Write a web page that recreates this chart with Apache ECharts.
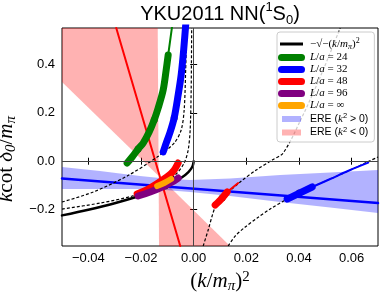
<!DOCTYPE html>
<html><head><meta charset="utf-8">
<script src="https://cdn.jsdelivr.net/npm/echarts@6/dist/echarts.min.js"></script>
<style>html,body{margin:0;padding:0;background:#fff;}#c{width:382px;height:295px;}</style>
</head><body><div id="c"></div>
<script>
// ---- axis ticks ----
const xTicks = [-0.04, -0.02, 0.00, 0.02, 0.04, 0.06];
const yTicks = [-0.2, 0.0, 0.2, 0.4];

// ---- ERE bands ----
const pinkUpper = [[-0.05,0.55],[-0.01365,0.55],[-0.0133,-0.061],[-0.05,0.327]];
const pinkLower = [[-0.0133,-0.061],[-0.01316,-0.35],[0.0138,-0.35]];
const blueBandX = [-0.05,-0.0356,-0.0204,-0.0109,-0.0014,0.0138,0.0328,0.0518,0.07];
const blueBandTop = [-0.024,-0.040,-0.061,-0.071,-0.078,-0.071,-0.057,-0.047,-0.036];
const blueBandBottom = [-0.115,-0.115,-0.115,-0.119,-0.127,-0.144,-0.168,-0.191,-0.214];
const ereNegLine = [[-0.0294,0.55],[-0.0051,-0.35]];
const erePosLine = [[-0.05,-0.071],[0.07,-0.1726]];

// ---- -sqrt(-(k/m)^2) ----
const sqrtCurve = [[-0.05,-0.2236],[-0.04,-0.2],[-0.03,-0.1732],[-0.02,-0.1414],[-0.015,-0.1225],[-0.01,-0.1],[-0.007,-0.0837],[-0.004,-0.0632],[-0.002,-0.0447],[-0.001,-0.0316],[-0.0003,-0.0173],[0,0]];

// ---- Luescher curves (dashed) ----
const dashA = [[-0.05,-0.1685],[-0.03817,-0.1272],[-0.02526,-0.0611],[-0.01386,0.0173],[-0.00741,0.0751],[-0.00475,0.1288],[-0.00361,0.2114],[-0.00304,0.3765],[-0.00266,0.55]];
const dashB = [[-0.05,-0.1974],[-0.03551,-0.1726],[-0.02336,-0.1437],[-0.01272,-0.0983],[-0.00665,-0.0528],[-0.00361,-0.0074],[-0.00209,0.0462],[-0.00133,0.1288],[-0.00095,0.294],[-0.00076,0.55]];
const dashC = [[0.00361,-0.35],[0.00551,-0.2841],[0.00817,-0.1891],[0.01082,-0.1519],[0.01766,-0.0859],[0.02374,-0.0364],[0.02981,0.0049],[0.03399,0.0338],[0.04045,0.166],[0.04805,0.3476],[0.05564,0.55]];
const dashD = [[0.0131,-0.35],[0.01576,-0.3089],[0.01956,-0.2717],[0.02412,-0.2345],[0.02905,-0.1974],[0.03551,-0.1561],[0.04045,-0.1313],[0.045,-0.1065],[0.05184,-0.0735],[0.05944,-0.0364],[0.0659,-0.0033],[0.07,0.0173]];

// ---- lattice data ----
const green24Thin = [[-0.0079,0.58],[-0.00968,0.4385]];
const green24 = [[-0.00968,0.4385],[-0.01044,0.3765],[-0.01158,0.2939],[-0.01348,0.2196],[-0.015,0.1701],[-0.0169,0.1206],[-0.01918,0.0751],[-0.02108,0.0504],[-0.02336,0.0173],[-0.02526,-0.0074]];
const blue32 = [[-0.0029,0.58],[-0.0038,0.4591],[-0.00475,0.3559],[-0.00589,0.2733],[-0.00741,0.1784],[-0.00893,0.1206],[-0.01044,0.0751],[-0.01158,0.038]];
const blue32Exc = [[0.03551,-0.1561],[0.045,-0.1065]];
const blue32ExcThin = [[0.045,-0.1065],[0.05184,-0.0735],[0.05944,-0.0364],[0.0663,-0.006]];
const red48 = [[-0.02146,-0.1354],[-0.01728,-0.1148],[-0.01348,-0.09],[-0.00968,-0.0611],[-0.00741,-0.0363],[-0.00589,-0.0074]];
const red48Exc = [[0.00817,-0.1808],[0.01082,-0.1519],[0.01272,-0.1272]];
const red48ExcThin = [[0.01272,-0.1272],[0.0169,-0.09]];
const purple96 = [[-0.02108,-0.1437],[-0.01652,-0.1272],[-0.01196,-0.1065],[-0.00817,-0.0859],[-0.00589,-0.0694]];
const orangeInf = [[-0.01386,-0.1024],[-0.0112,-0.09],[-0.00855,-0.0735]];
const dots24 = [[-0.015,0.170],[-0.0211,0.050]];
const dots32 = [[-0.0074,0.178],[0.0401,-0.1313]];
const dots48 = [[0.0108,-0.1519]];
const dotsCenter = [[-0.01588,-0.1078],[-0.01299,-0.0888],[-0.01109,-0.0747],[-0.0109,-0.1024]];

const SERIF = 'Liberation Serif', SANS = 'Liberation Sans';
const chart = echarts.init(document.getElementById('c'), null, {renderer:'canvas'});

function polySeries(name, polys, color) {
  return {
    type:'custom', name, coordinateSystem:'cartesian2d', clip:true, silent:true,
    itemStyle:{color}, data:[[0,0]],
    renderItem:(params, api) => ({
      type:'group',
      children: polys.map(pts => ({type:'polygon', shape:{points: pts.map(p => api.coord(p))}, style:{fill:color}}))
    })
  };
}
function lineS(name, data, color, width, extra) {
  return Object.assign({
    type:'line', name, data, symbol:'none', showSymbol:false, clip:true, silent:true,
    itemStyle:{color}, lineStyle:{color, width, cap:'round', join:'round'}
  }, extra || {});
}
function dashS(data) {
  return {type:'line', name:'dash', data, symbol:'none', clip:true, silent:true, smooth:0.3,
    itemStyle:{color:'#000'}, lineStyle:{color:'#000', width:1.2, type:[3,2]}};
}
function dotS(data) {
  return {type:'scatter', name:'dots', data, symbol:'circle', symbolSize:7, silent:true,
    itemStyle:{color:'#000'}};
}

const blueBandPoly = blueBandX.map((x,i) => [x, blueBandTop[i]])
  .concat(blueBandX.map((x,i) => [x, blueBandBottom[i]]).reverse());

const mathRich = {
  i:{fontFamily:SERIF, fontStyle:'italic', fontSize:11, lineHeight:14, color:'#000'},
  r:{fontFamily:SERIF, fontSize:11, lineHeight:14, color:'#000'},
  s:{fontFamily:SERIF, fontStyle:'italic', fontSize:8, lineHeight:8, verticalAlign:'bottom', color:'#000'},
  p:{fontFamily:SERIF, fontSize:8, lineHeight:8, verticalAlign:'top', color:'#000'},
  a:{fontFamily:SANS, fontSize:10.5, lineHeight:14, color:'#000'},
  ai:{fontFamily:SERIF, fontStyle:'italic', fontSize:11, lineHeight:14, color:'#000'},
  ap:{fontFamily:SANS, fontSize:7.5, lineHeight:8, verticalAlign:'top', color:'#000'}
};
const legendLabels = {
  'sqrt':'{r|−√−(}{i|k}{r|/}{i|m}{s|π}{r|)}{p|2}',
  'L/a=24':'{i|L}{r|/}{i|a}{r| = 24}',
  'L/a=32':'{i|L}{r|/}{i|a}{r| = 32}',
  'L/a=48':'{i|L}{r|/}{i|a}{r| = 48}',
  'L/a=96':'{i|L}{r|/}{i|a}{r| = 96}',
  'L/a=inf':'{i|L}{r|/}{i|a}{r| = ∞}',
  'EREpos':'{a|ERE (}{ai|k}{ap|2}{a| > 0)}',
  'EREneg':'{a|ERE (}{ai|k}{ap|2}{a| < 0)}'
};
const capsule = 'path://M3.5,0h20a3.5,3.5 0 0 1 0,7h-20a3.5,3.5 0 0 1 0,-7z';
const thinBar = 'path://M0,0M27,7M2,2h23v3h-23z';
const rectIcon = 'path://M0,0M27,7M4,0.5h19v6h-19z';

const axisNameRich = {
  i:{fontFamily:SERIF, fontStyle:'italic', fontSize:21, lineHeight:24, color:'#000'},
  r:{fontFamily:SERIF, fontSize:21, lineHeight:24, color:'#000'},
  s:{fontFamily:SERIF, fontStyle:'italic', fontSize:15, lineHeight:14, verticalAlign:'bottom', color:'#000'},
  p:{fontFamily:SERIF, fontSize:15, lineHeight:14, verticalAlign:'top', color:'#000'},
  g:{fontSize:10, width:44, color:'rgba(0,0,0,0)'}
};

const xFmt = v => (v < -1e-9 ? '−' : '') + Math.abs(v).toFixed(2);
const yFmt = v => (v < -1e-9 ? '−' : '') + Math.abs(v).toFixed(1);

const baseX = {type:'value', min:-0.05, max:0.07, splitLine:{show:false}, axisLine:{show:false}};
const baseY = {type:'value', min:-0.35, max:0.55, splitLine:{show:false}, axisLine:{show:false}};

const option = {
  animation:false,
  backgroundColor:'#fff',
  title:{
    text:'YKU2011 NN({sup|1}S{sub|0})', left:220, top:1, textAlign:'center', padding:0,
    textStyle:{fontFamily:SANS, fontSize:20, fontWeight:'normal', color:'#000', lineHeight:26,
      rich:{sup:{fontFamily:SANS, fontSize:13, lineHeight:15, verticalAlign:'top', color:'#000'},
            sub:{fontFamily:SANS, fontSize:13, lineHeight:12, verticalAlign:'bottom', color:'#000'}}}
  },
  grid:{left:62, right:4, top:28, bottom:49, show:true, borderColor:'#000', borderWidth:1,
    backgroundColor:'transparent', containLabel:false, outerBoundsMode:'none'},
  legend:{
    orient:'vertical', left:277, top:32, itemWidth:27, itemHeight:7, itemGap:1,
    padding:[5,6,4,1], backgroundColor:'rgba(255,255,255,0.8)', borderColor:'#cccccc', borderWidth:1, borderRadius:3,
    selectedMode:false, symbolKeepAspect:true,
    formatter: n => legendLabels[n],
    textStyle:{rich:mathRich},
    data:[
      {name:'sqrt', icon:thinBar, itemStyle:{color:'#000'}},
      {name:'L/a=24', icon:capsule, itemStyle:{color:'#008000'}},
      {name:'L/a=32', icon:capsule, itemStyle:{color:'#0000ff'}},
      {name:'L/a=48', icon:capsule, itemStyle:{color:'#ff0000'}},
      {name:'L/a=96', icon:capsule, itemStyle:{color:'#800080'}},
      {name:'L/a=inf', icon:capsule, itemStyle:{color:'#ffa500'}},
      {name:'EREpos', icon:rectIcon, itemStyle:{color:'rgba(0,0,255,0.3)'}},
      {name:'EREneg', icon:rectIcon, itemStyle:{color:'rgba(255,0,0,0.3)'}}
    ]
  },
  xAxis:[
    Object.assign({}, baseX, {position:'bottom',
      axisTick:{show:true, inside:false, length:3.5, customValues:xTicks, lineStyle:{color:'#000', width:1}},
      axisLabel:{customValues:xTicks, formatter:xFmt, fontFamily:SANS, fontSize:13, color:'#000', margin:6},
      name:'{r|(}{i|k}{r|/}{i|m}{s|π}{r|)}{p|2}', nameLocation:'middle', nameGap:22,
      nameTextStyle:{rich:axisNameRich}}),
    Object.assign({}, baseX, {position:'top',
      axisTick:{show:true, inside:false, length:3.5, customValues:xTicks, lineStyle:{color:'#000', width:1}},
      axisLabel:{show:false}})
  ],
  yAxis:[
    Object.assign({}, baseY, {position:'left',
      axisTick:{show:true, inside:false, length:3.5, customValues:yTicks, lineStyle:{color:'#000', width:1}},
      axisLabel:{customValues:yTicks, formatter:yFmt, fontFamily:SANS, fontSize:13, color:'#000', margin:7},
      name:'{i|k}{r|cot }{i|δ}{s|0}{r|/}{i|m}{s|π}{g| }', nameLocation:'middle', nameGap:37, nameRotate:90,
      nameTextStyle:{rich:axisNameRich}}),
    Object.assign({}, baseY, {position:'right',
      axisTick:{show:true, inside:false, length:3.5, customValues:yTicks, lineStyle:{color:'#000', width:1}},
      axisLabel:{show:false}})
  ],
  series:[
    Object.assign(polySeries('EREneg', [pinkUpper, pinkLower], 'rgba(255,0,0,0.3)'), {
      markLine:{silent:true, symbol:['none','none'], label:{show:false}, animation:false,
        lineStyle:{color:'#444', width:1, type:'solid'}, data:[{xAxis:0},{yAxis:0}]}
    }),
    polySeries('EREpos', [blueBandPoly], 'rgba(0,0,255,0.3)'),
    lineS('EREneg', ereNegLine, '#ff0000', 2),
    lineS('EREpos', erePosLine, '#0000ff', 2.5),
    dashS(dashA), dashS(dashB), dashS(dashC), dashS(dashD),
    lineS('sqrt', sqrtCurve, '#000', 2.5, {smooth:0.3}),
    lineS('L/a=24', green24Thin, '#008000', 2),
    lineS('L/a=24', green24, '#008000', 7, {smooth:0.3}),
    lineS('L/a=32', blue32, '#0000ff', 7, {smooth:0.3}),
    lineS('L/a=32', blue32ExcThin, '#0000ff', 2, {smooth:0.3}),
    lineS('L/a=32', blue32Exc, '#0000ff', 7),
    lineS('L/a=48', red48ExcThin, '#ff0000', 2),
    lineS('L/a=48', red48Exc, '#ff0000', 7, {smooth:0.3}),
    lineS('L/a=48', red48, '#ff0000', 7, {smooth:0.3}),
    lineS('L/a=96', purple96, '#800080', 7, {smooth:0.3}),
    lineS('L/a=inf', orangeInf, '#ffa500', 6, {smooth:0.3}),
    dotS(dots24), dotS(dots32), dotS(dots48), dotS(dotsCenter)
  ]
};
chart.setOption(option);
</script></body></html>
